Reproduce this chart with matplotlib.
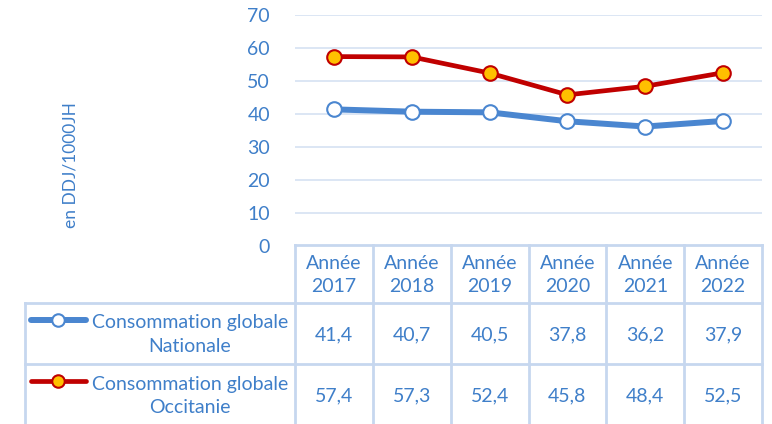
import matplotlib
matplotlib.use('Agg')
import matplotlib.pyplot as plt
from matplotlib.lines import Line2D

plt.rcParams['font.family'] = ['Lato', 'DejaVu Sans']

# data
years = ['2017', '2018', '2019', '2020', '2021', '2022']
nationale = [41.4, 40.7, 40.5, 37.8, 36.2, 37.9]
occitanie = [57.4, 57.3, 52.4, 45.8, 48.4, 52.5]
series_names = ['Consommation globale\nNationale', 'Consommation globale\nOccitanie']
y_ticks = [0, 10, 20, 30, 40, 50, 60, 70]
y_label = 'en DDJ/1000JH'

# colours
txt = '#3f7fc9'
grid = '#d5e1f2'
blue = '#4a86d0'
red = '#c00000'
yellow = '#ffc000'
fs = 14

W, H = 772, 424
fig = plt.figure(figsize=(W / 100, H / 100), dpi=100)

# layout in pixels
x0, x1 = 295, 762
y_top, y_zero = 15, 246
ax = fig.add_axes([x0 / W, 1 - y_zero / H, (x1 - x0) / W, (y_zero - y_top) / H])
xs = list(range(len(years)))
ax.set_xlim(-0.5, len(years) - 0.5)
ax.set_ylim(0, 70)
ax.set_yticks(y_ticks)
for t in y_ticks[1:]:
    ax.axhline(t, color=grid, lw=1.2, zorder=0)
ax.set_xticks([])
for s in ax.spines.values():
    s.set_visible(False)
ax.tick_params(axis='y', length=0, pad=18, labelsize=fs, labelcolor=txt)

ax.plot(xs, nationale, color=blue, lw=4.3, marker='o', ms=10.5, mfc='white',
        mec=blue, mew=1.5, solid_capstyle='round', zorder=3, clip_on=False)
ax.plot(xs, occitanie, color=red, lw=3.4, marker='o', ms=10.5, mfc=yellow,
        mec=red, mew=1.5, solid_capstyle='round', zorder=3, clip_on=False)

# overlay in pixel coordinates for the data table
ov = fig.add_axes([0, 0, 1, 1])
ov.set_xlim(0, W)
ov.set_ylim(H, 0)
ov.axis('off')

fig.text(70 / W, 1 - 165 / H, y_label, rotation=90, color=txt, fontsize=12.5,
         ha='center', va='center')

line_c = '#c6d7ef'
col_w = (x1 - x0) / len(years)
rows = [245, 303, 364, 426]
left = 25
# horizontal lines
ov.plot([x0, x1], [rows[0], rows[0]], color=line_c, lw=2)
for r in rows[1:3]:
    ov.plot([left, x1], [r, r], color=line_c, lw=2)
# vertical lines
for i in range(len(years) + 1):
    ov.plot([x0 + i * col_w] * 2, [rows[0], H], color=line_c, lw=2)
ov.plot([left, left], [rows[1], H], color=line_c, lw=2)

for i, yr in enumerate(years):
    cx = x0 + (i + 0.5) * col_w
    ov.text(cx, (rows[0] + rows[1]) / 2 + 1, 'Année\n' + yr, ha='center', va='center',
            color=txt, fontsize=fs, linespacing=1.45)

series = [nationale, occitanie]
styles = [(blue, 'white', 4.3), (red, yellow, 3.4)]
for k, (vals, name) in enumerate(zip(series, series_names)):
    top, bot = rows[k + 1], rows[k + 2]
    cy = (top + bot) / 2 + 1
    lc, fc, lw = styles[k]
    ly = top + 17
    ov.add_line(Line2D([31, 86], [ly, ly], color=lc, lw=lw, solid_capstyle='round'))
    ov.plot([58], [ly], marker='o', ms=9, mfc=fc, mec=lc, mew=1.5)
    ov.text(190, cy, name, ha='center', va='center', color=txt,
            fontsize=fs, linespacing=1.45)
    for i, v in enumerate(vals):
        cx = x0 + (i + 0.5) * col_w
        ov.text(cx, cy, f'{v:.1f}'.replace('.', ','), ha='center', va='center',
                color=txt, fontsize=fs)

fig.savefig('out.png', dpi=100)
